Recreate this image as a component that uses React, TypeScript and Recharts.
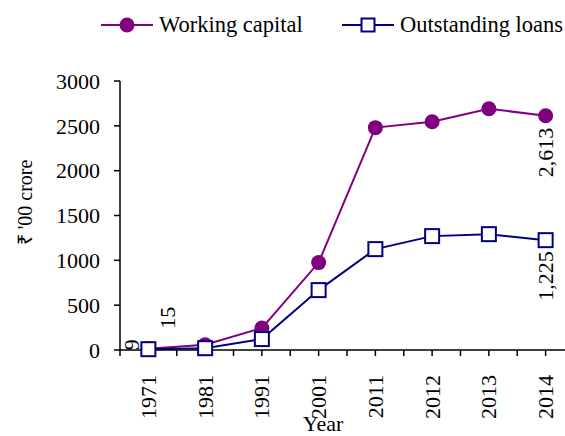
import React from 'react';
import { LineChart, Line, XAxis, YAxis, LabelList } from 'recharts';

const years = ['1971', '1981', '1991', '2001', '2011', '2012', '2013', '2014'];
const workingCapital = [15, 58, 245, 975, 2480, 2545, 2690, 2613];
const outstandingLoans = [9, 20, 122, 668, 1125, 1270, 1292, 1225];
const yTicks = [0, 500, 1000, 1500, 2000, 2500, 3000];

// labels shown only on a few points
const wcLabelIdx = [0, 7];
const olLabelIdx = [0, 7];

const PURPLE = '#800080';
const NAVY = '#000080';
const FONT = '"Liberation Serif", "Times New Roman", serif';

const data = years.map((year, i) => ({
  i,
  year,
  wc: workingCapital[i],
  ol: outstandingLoans[i],
}));

const xTicks: number[] = [];
for (let t = -0.5; t <= years.length - 0.5; t += 0.5) xTicks.push(t);

const fmt = (v: number) => v.toLocaleString('en-US');

function XTick({ x, y, payload }: any) {
  const v = payload.value;
  if (!Number.isInteger(v)) return null;
  return (
    <text transform={`translate(${x},${y + 17}) rotate(-90)`} textAnchor="end" dominantBaseline="central" fontSize={22} fill="#000">
      {years[v]}
    </text>
  );
}

function makeLabel(show: number[], offsets: Record<number, [number, number]>, anchor: Record<number, string>) {
  return (props: any) => {
    const { x, y, index, value } = props;
    if (!show.includes(index)) return null;
    const [dx, dy] = offsets[index];
    return (
      <text
        key={index}
        transform={`translate(${x + dx},${y + dy}) rotate(-90)`}
        textAnchor={anchor[index]}
        dominantBaseline="central"
        fontSize={22}
        fill="#000"
      >
        {fmt(value)}
      </text>
    );
  };
}

const wcLabel = makeLabel(wcLabelIdx, { 0: [19, -20], 7: [0, 12] }, { 0: 'start', 7: 'end' });
const olLabel = makeLabel(olLabelIdx, { 0: [-17, 1], 7: [0, 11] }, { 0: 'start', 7: 'end' });

function Legend() {
  const item = (label: string, color: string, marker: React.ReactNode, left: number) => (
    <div style={{ position: 'absolute', left, top: 10, display: 'flex', alignItems: 'center' }}>
      <svg width={52} height={30}>
        <line x1={0} y1={15} x2={52} y2={15} stroke={color} strokeWidth={2} />
        {marker}
      </svg>
      <span style={{ fontSize: 22.5, marginLeft: 6, color: '#000' }}>{label}</span>
    </div>
  );
  return (
    <>
      {item('Working capital', PURPLE, <circle cx={26} cy={15} r={7.5} fill={PURPLE} />, 101)}
      {item('Outstanding loans', NAVY, <rect x={19.5} y={8.5} width={13} height={13} fill="#fff" stroke={NAVY} strokeWidth={2} />, 342)}
    </>
  );
}

export default function App() {
  return (
    <div
      style={{
        position: 'absolute',
        left: 0,
        top: 0,
        width: 565,
        height: 436,
        overflow: 'hidden',
        background: '#fff',
        fontFamily: FONT,
      }}
    >
      <Legend />
      <LineChart width={580} height={436} data={data} margin={{ top: 81, right: 6, left: 0, bottom: 0 }} style={{ fontFamily: FONT }}>
        <XAxis
          dataKey="i"
          type="number"
          domain={[-0.5, years.length - 0.5]}
          ticks={xTicks}
          interval={0}
          tick={<XTick />}
          tickSize={6}
          axisLine={{ stroke: '#000', strokeWidth: 1.5 }}
          tickLine={{ stroke: '#000', strokeWidth: 1.5 }}
          height={86}
          label={{
            content: ({ viewBox }: any) => (
              <text x={viewBox.x + viewBox.width / 2 - 24} y={viewBox.y + viewBox.height - 5} textAnchor="middle" fontSize={22} fill="#000">
                Year
              </text>
            ),
          }}
        />
        <YAxis
          domain={[0, 3000]}
          ticks={yTicks}
          width={120}
          tickSize={6}
          tickMargin={14}
          axisLine={{ stroke: '#000', strokeWidth: 1.5 }}
          tickLine={{ stroke: '#000', strokeWidth: 1.5 }}
          tick={{ fontSize: 22, fill: '#000' }}
          label={{
            content: ({ viewBox }: any) => (
              <text
                transform={`translate(${viewBox.x + 25},${viewBox.y + viewBox.height / 2 - 13}) rotate(-90)`}
                textAnchor="middle"
                dominantBaseline="central"
                fontSize={20}
                fill="#000"
              >
                ₹ '00 crore
              </text>
            ),
          }}
        />
        <Line
          dataKey="wc"
          type="linear"
          stroke={PURPLE}
          strokeWidth={2}
          dot={{ r: 7.5, fill: PURPLE, stroke: PURPLE, strokeWidth: 0 }}
          isAnimationActive={false}
        >
          <LabelList dataKey="wc" content={wcLabel} />
        </Line>
        <Line
          dataKey="ol"
          type="linear"
          stroke={NAVY}
          strokeWidth={2}
          dot={(p: any) => (
            <rect key={p.index} x={p.cx - 7} y={p.cy - 7} width={14} height={14} fill="#fff" stroke={NAVY} strokeWidth={2} />
          )}
          isAnimationActive={false}
        >
          <LabelList dataKey="ol" content={olLabel} />
        </Line>
      </LineChart>
    </div>
  );
}
